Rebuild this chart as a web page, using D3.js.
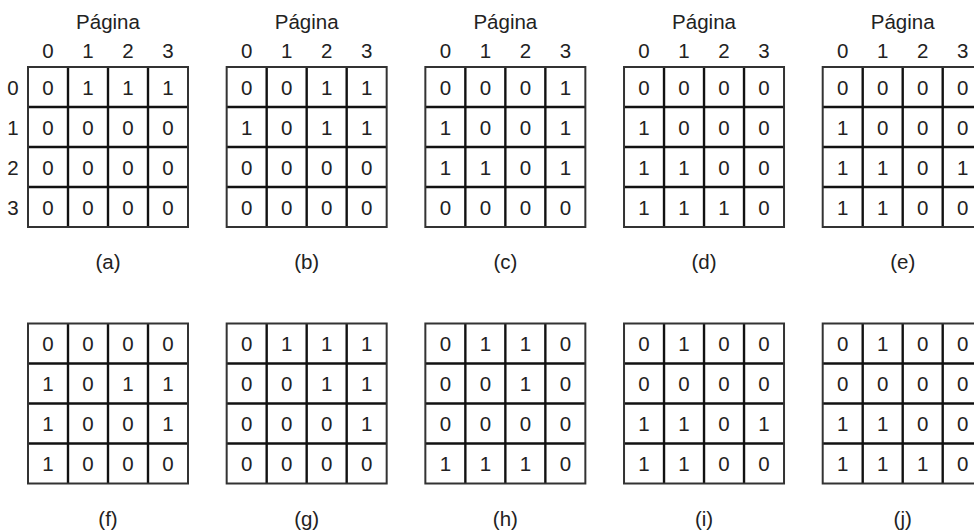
<!DOCTYPE html>
<html><head><meta charset="utf-8">
<script src="https://cdn.jsdelivr.net/npm/d3@7"></script>
<style>body{margin:0;background:#fff}svg{display:block}</style>
</head><body>
<svg id="c" width="974" height="531"></svg>
<script>
const panelLabels = ["(a)","(b)","(c)","(d)","(e)","(f)","(g)","(h)","(i)","(j)"];
const pageLabels = ["0","1","2","3"];
const headerTitle = "Página";
const mA = [[0,1,1,1],[0,0,0,0],[0,0,0,0],[0,0,0,0]];
const mB = [[0,0,1,1],[1,0,1,1],[0,0,0,0],[0,0,0,0]];
const mC = [[0,0,0,1],[1,0,0,1],[1,1,0,1],[0,0,0,0]];
const mD = [[0,0,0,0],[1,0,0,0],[1,1,0,0],[1,1,1,0]];
const mE = [[0,0,0,0],[1,0,0,0],[1,1,0,1],[1,1,0,0]];
const mF = [[0,0,0,0],[1,0,1,1],[1,0,0,1],[1,0,0,0]];
const mG = [[0,1,1,1],[0,0,1,1],[0,0,0,1],[0,0,0,0]];
const mH = [[0,1,1,0],[0,0,1,0],[0,0,0,0],[1,1,1,0]];
const mI = [[0,1,0,0],[0,0,0,0],[1,1,0,1],[1,1,0,0]];
const mJ = [[0,1,0,0],[0,0,0,0],[1,1,0,0],[1,1,1,0]];
const matrices = [mA,mB,mC,mD,mE,mF,mG,mH,mI,mJ];

const svg = d3.select("#c");
const font = "'Liberation Sans', Arial, Helvetica, sans-serif";
const fs = 20.5;
const col = d3.scaleLinear().domain([0,4]).range([28, 822.7]);
const rowY = d3.scaleOrdinal().domain([0,1]).range([67, 323.5]);
const cellBand = d3.scaleBand().domain(d3.range(4)).range([0,160]);

matrices.forEach((m, k) => {
  const r = Math.floor(k/5), c = k%5;
  const g = svg.append("g").attr("transform", `translate(${col(c)},${rowY(r)})`);
  const bw = cellBand.bandwidth();
  m.forEach((row, i) => row.forEach((v, j) => {
    g.append("text").attr("x", cellBand(j)+bw/2).attr("y", cellBand(i)+bw/2+7.5)
      .attr("text-anchor","middle").attr("font-family",font).attr("font-size",fs)
      .attr("fill","#222").text(v);
  }));
  d3.range(1,4).forEach(t => {
    g.append("line").attr("x1",cellBand(t)).attr("x2",cellBand(t)).attr("y1",0).attr("y2",160)
      .attr("stroke","#111").attr("stroke-width",2.4);
    g.append("line").attr("y1",cellBand(t)).attr("y2",cellBand(t)).attr("x1",0).attr("x2",160)
      .attr("stroke","#111").attr("stroke-width",2.6);
  });
  g.append("rect").attr("x",0).attr("y",0).attr("width",160).attr("height",160)
    .attr("fill","none").attr("stroke","#333").attr("stroke-width",2);
  if (r === 0) {
    g.append("text").attr("x",80).attr("y",-38).attr("text-anchor","middle")
      .attr("font-family",font).attr("font-size",fs).attr("fill","#222").text(headerTitle);
    pageLabels.forEach((p,j) => {
      g.append("text").attr("x",cellBand(j)+bw/2).attr("y",-9).attr("text-anchor","middle")
        .attr("font-family",font).attr("font-size",fs).attr("fill","#222").text(p);
    });
  }
  if (k === 0) {
    pageLabels.forEach((p,i) => {
      g.append("text").attr("x",-15).attr("y",cellBand(i)+bw/2+7.5).attr("text-anchor","middle")
        .attr("font-family",font).attr("font-size",fs).attr("fill","#222").text(p);
    });
  }
  g.append("text").attr("x",80).attr("y",202).attr("text-anchor","middle")
    .attr("font-family",font).attr("font-size",fs).attr("fill","#222").text(panelLabels[k]);
});
</script>
</body></html>
